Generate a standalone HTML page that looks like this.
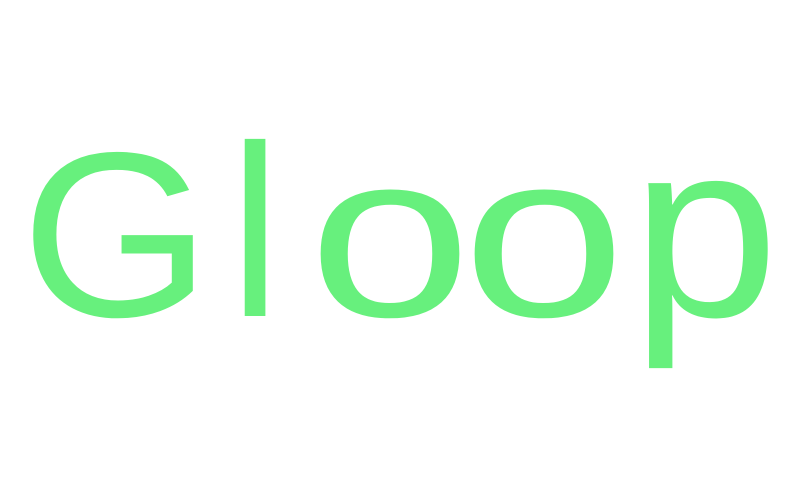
<!DOCTYPE html>
<html><head><meta charset="utf-8"><style>
html,body{margin:0;padding:0;background:#fff;width:795px;height:500px;overflow:hidden}
svg text{font-family:"Liberation Sans",sans-serif;font-size:235px;fill:#67f07d}
</style></head><body>
<svg width="795" height="500" viewBox="0 0 795 500">
<g>
<text text-anchor="middle" transform="translate(116,316) scale(1.04,1)">G</text>
<text text-anchor="middle" transform="translate(255,316) scale(1,1.04)">l</text>
<text text-anchor="middle" transform="translate(390,316) scale(1.25,1)">o</text>
<text text-anchor="middle" transform="translate(544,316) scale(1.25,1)">o</text>
<text text-anchor="middle" transform="translate(705,316) scale(1.13,1.07)">p</text>
</g>
</svg>
</body></html>
